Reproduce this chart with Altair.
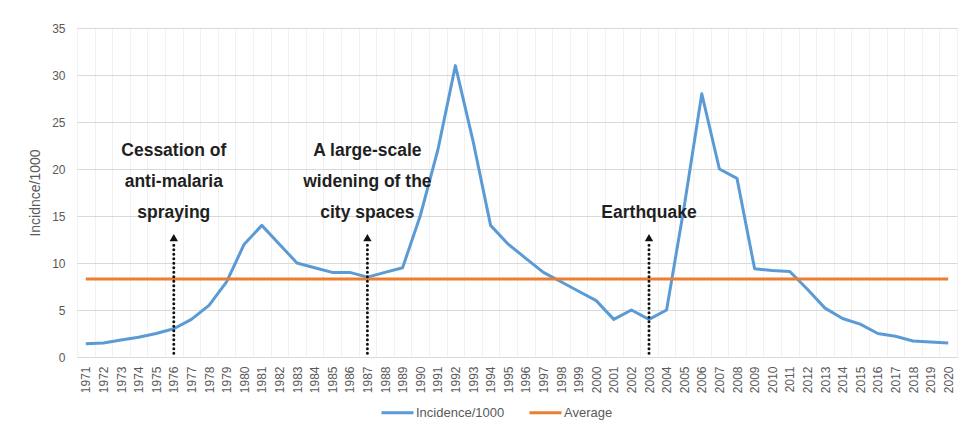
import altair as alt
import pandas as pd

years = list(range(1971, 2021))
incidence = [1.4, 1.5, 1.8, 2.1, 2.5, 3.0, 4.0, 5.5, 8.0, 12.0,
             14.0, 12.0, 10.0, 9.5, 9.0, 9.0, 8.5, 9.0, 9.5, 15.0,
             22.0, 31.0, 23.0, 14.0, 12.0, 10.5, 9.0, 8.0, 7.0, 6.0,
             4.0, 5.0, 4.0, 5.0, 16.0, 28.0, 20.0, 19.0, 9.4, 9.2,
             9.1, 7.2, 5.2, 4.1, 3.5, 2.5, 2.2, 1.7, 1.6, 1.5]
average = 8.3
series_names = ["Incidence/1000", "Average"]
series_colors = ["#5B9BD5", "#ED7D31"]

event_years = [1976, 1987, 2003]
arrow_bottom = 0.4
arrow_top = 12.3
arrow_head = 12.7

label_years = [1976, 1976, 1976, 1987, 1987, 1987, 2003]
label_texts = ["Cessation of", "anti-malaria", "spraying",
               "A large-scale", "widening of the", "city spaces", "Earthquake"]
label_values = [21.9, 18.6, 15.3, 21.9, 18.6, 15.3, 15.3]

year_labels = [str(y) for y in years]

lines_df = pd.DataFrame({
    "year": year_labels * 2,
    "value": incidence + [average] * len(years),
    "series": [series_names[0]] * len(years) + [series_names[1]] * len(years),
})
events_df = pd.DataFrame({
    "year": [str(y) for y in event_years],
    "y0": [arrow_bottom] * len(event_years),
    "y1": [arrow_top] * len(event_years),
    "yh": [arrow_head] * len(event_years),
})
labels_df = pd.DataFrame({
    "year": [str(y) for y in label_years],
    "text": label_texts,
    "value": label_values,
})

FONT = "Liberation Sans"
GRAY = "#595959"

xscale = alt.Scale(type="band", domain=year_labels, paddingInner=0, paddingOuter=0)
yscale = alt.Scale(domain=[0, 35], nice=False)

x_enc = alt.X(
    "year:O", scale=xscale, bandPosition=0.5, sort=None,
    axis=alt.Axis(
        title=None, labelAngle=270, labelFontSize=12, labelColor=GRAY,
        labelFont=FONT, labelPadding=9, ticks=False, tickSize=0, domain=False,
        grid=True, tickBand="extent", gridColor="#F1F1F1", gridWidth=1,
        labelAlign="right", labelBaseline="middle",
    ),
)
y_axis = alt.Axis(
    title="Incidnce/1000", titleFont=FONT, titleFontSize=14, titleFontWeight="normal",
    titleColor=GRAY, titlePadding=9, values=[0, 5, 10, 15, 20, 25, 30, 35],
    labelFontSize=12, labelColor=GRAY, labelFont=FONT, labelPadding=12,
    ticks=False, tickSize=0, domain=False, grid=True, gridColor="#D9D9D9", gridWidth=1,
)

lines = alt.Chart(lines_df).mark_line(strokeWidth=3, strokeJoin="round").encode(
    x=x_enc,
    y=alt.Y("value:Q", scale=yscale, axis=y_axis),
    color=alt.Color(
        "series:N",
        scale=alt.Scale(domain=series_names, range=series_colors),
        legend=alt.Legend(
            title=None, orient="none", legendX=303, legendY=367, direction="horizontal",
            symbolType="stroke", symbolSize=1024, symbolStrokeWidth=3,
            labelFont=FONT, labelFontSize=13, labelColor=GRAY, labelOffset=1,
            columnPadding=18, padding=0,
        ),
    ),
    detail="series:N",
)

arrows = alt.Chart(events_df).mark_rule(
    color="#111111", strokeWidth=3, strokeDash=[0.1, 4.4], strokeCap="round"
).encode(
    x=alt.X("year:O", scale=xscale, bandPosition=0.5),
    y=alt.Y("y0:Q", scale=yscale),
    y2="y1:Q",
)

heads = alt.Chart(events_df).mark_point(
    shape="triangle-up", filled=True, color="#111111", size=70, opacity=1
).encode(
    x=alt.X("year:O", scale=xscale, bandPosition=0.5),
    y=alt.Y("yh:Q", scale=yscale),
)

texts = alt.Chart(labels_df).mark_text(
    font=FONT, fontSize=17.5, fontWeight="bold", color="#1F1F1F",
    align="center", baseline="middle",
).encode(
    x=alt.X("year:O", scale=xscale, bandPosition=0.5),
    y=alt.Y("value:Q", scale=yscale),
    text="text:N",
)

chart = alt.layer(lines, arrows, heads, texts).properties(
    width=880, height=329,
    autosize=alt.AutoSizeParams(type="none"),
    padding={"left": 69, "top": 20, "right": 6, "bottom": 72},
).configure_view(stroke=None).configure(background="white")

chart.save("out.html", embed_options={"renderer": "svg", "actions": False})
